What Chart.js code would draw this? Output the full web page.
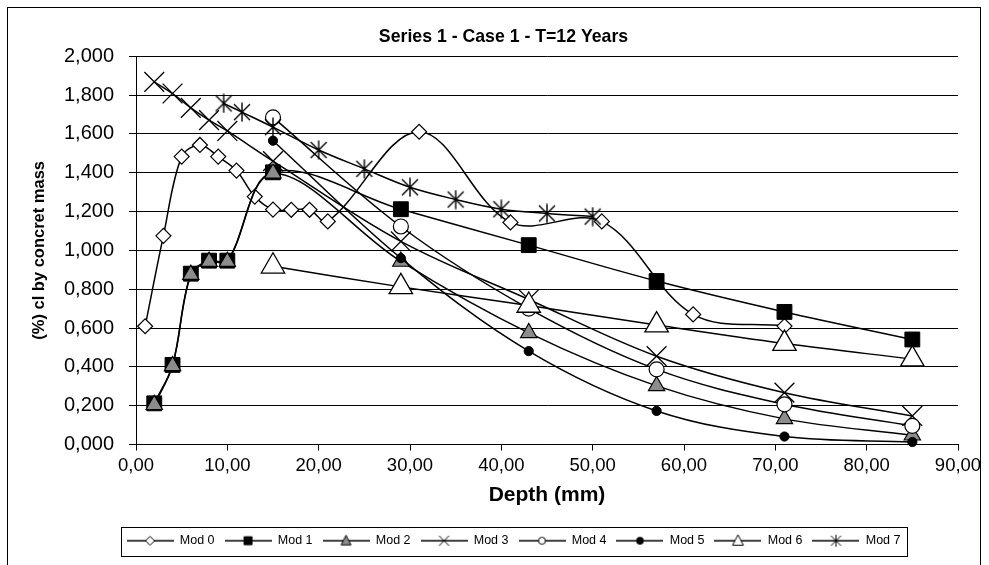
<!DOCTYPE html>
<html>
<head>
<meta charset="utf-8">
<script src="https://cdn.jsdelivr.net/npm/chart.js@4.4.1/dist/chart.umd.min.js"></script>
<style>
html,body{margin:0;padding:0;background:#fff;}
#wrap{width:989px;height:565px;position:relative;overflow:hidden;}
canvas{display:block;}
</style>
</head>
<body>
<div id="wrap"><canvas id="c" width="989" height="565"></canvas></div>
<script>
// ---------------- data ----------------
const chartTitle = 'Series 1 - Case 1 - T=12 Years';
const xAxisTitle = 'Depth (mm)';
const yAxisTitle = '(%) cl by concret mass';
const seriesNames = ['Mod 0', 'Mod 1', 'Mod 2', 'Mod 3', 'Mod 4', 'Mod 5', 'Mod 6', 'Mod 7'];

const xTickLabels = ['0,00', '10,00', '20,00', '30,00', '40,00', '50,00', '60,00', '70,00', '80,00', '90,00'];
const yTickLabels = ['0,000', '0,200', '0,400', '0,600', '0,800', '1,000', '1,200', '1,400', '1,600', '1,800', '2,000'];

const depthMod0 = [1, 3, 5, 7, 9, 11, 13, 15, 17, 19, 21, 31, 41, 51, 61, 71];
const valueMod0 = [0.609, 1.075, 1.483, 1.543, 1.483, 1.411, 1.277, 1.210, 1.209, 1.209, 1.149, 1.611, 1.144, 1.149, 0.670, 0.610];

const depthMod1 = [2, 4, 6, 8, 10, 15, 29, 43, 57, 71, 85];
const valueMod1 = [0.212, 0.410, 0.880, 0.947, 0.947, 1.402, 1.212, 1.027, 0.842, 0.683, 0.541];

const depthMod2 = [2, 4, 6, 8, 10, 15, 29, 43, 57, 71, 85];
const valueMod2 = [0.205, 0.405, 0.875, 0.942, 0.942, 1.397, 0.943, 0.575, 0.302, 0.132, 0.048];

const depthMod3 = [2, 4, 6, 8, 10, 15, 29, 43, 57, 71, 85];
const valueMod3 = [1.868, 1.808, 1.734, 1.671, 1.615, 1.460, 1.046, 0.747, 0.455, 0.267, 0.147];

const depthMod4 = [15, 29, 43, 57, 71, 85];
const valueMod4 = [1.685, 1.123, 0.700, 0.387, 0.207, 0.096];

const depthMod5 = [15, 29, 43, 57, 71, 85];
const valueMod5 = [1.565, 0.960, 0.481, 0.173, 0.041, 0.013];

const depthMod6 = [15, 29, 43, 57, 71, 85];
const valueMod6 = [0.918, 0.812, 0.716, 0.615, 0.520, 0.440];

const depthMod7 = [9.6, 11.6, 15, 20, 25, 30, 35, 40, 45, 50];
const valueMod7 = [1.757, 1.712, 1.635, 1.517, 1.420, 1.325, 1.262, 1.212, 1.190, 1.174];

// ---------------- styles ----------------
const FONT = "'Liberation Sans', Arial, Helvetica, sans-serif";
const BLACK = '#000000';
const GREY = '#8c8c8c';

function asteriskCanvas(size, lw) {
  const c = document.createElement('canvas');
  c.width = size; c.height = size;
  const g = c.getContext('2d');
  const h = size / 2, a = size * 0.40, v = size * 0.47;
  g.strokeStyle = BLACK; g.lineWidth = lw;
  g.beginPath();
  g.moveTo(h - a, h - a); g.lineTo(h + a, h + a);
  g.moveTo(h + a, h - a); g.lineTo(h - a, h + a);
  g.moveTo(h, h - v); g.lineTo(h, h + v);
  g.stroke();
  return c;
}

const markerStyles = [
  { pointStyle: 'rectRot', radius: 7.5, fill: '#ffffff', bw: 1.2, shape: 'diamond', lr: 4.5 },
  { pointStyle: 'rect', radius: 10.5, fill: BLACK, bw: 1, shape: 'square', lr: 4 },
  { pointStyle: 'triangle', radius: 9.5, fill: GREY, bw: 1.1, shape: 'triangle', lr: 5.5 },
  { pointStyle: 'crossRot', radius: 14, fill: BLACK, bw: 1.3, shape: 'x', lr: 5 },
  { pointStyle: 'circle', radius: 7.5, fill: '#ffffff', bw: 1.2, shape: 'circle', lr: 3.5 },
  { pointStyle: 'circle', radius: 4.6, fill: BLACK, bw: 1, shape: 'dot', lr: 3.5 },
  { pointStyle: 'triangle', radius: 13.5, fill: '#ffffff', bw: 1.3, shape: 'triangle', lr: 6 },
  { pointStyle: asteriskCanvas(20, 1.4), radius: 9, fill: BLACK, bw: 1.3, shape: 'asterisk', lr: 5 }
];

function legendCanvas(m) {
  const W = 47, H = 14;
  const c = document.createElement('canvas');
  c.width = W; c.height = H;
  const g = c.getContext('2d');
  const cx = W / 2, cy = H / 2, r = m.lr;
  g.strokeStyle = BLACK; g.lineWidth = 1.3;
  g.beginPath(); g.moveTo(0, cy); g.lineTo(W, cy); g.stroke();
  g.lineWidth = 1;
  g.fillStyle = m.fill;
  g.beginPath();
  switch (m.shape) {
    case 'diamond':
      g.moveTo(cx, cy - r); g.lineTo(cx + r, cy); g.lineTo(cx, cy + r); g.lineTo(cx - r, cy); g.closePath();
      g.fillStyle = '#fff'; g.fill(); g.stroke(); break;
    case 'square':
      g.rect(cx - r, cy - r, 2 * r, 2 * r); g.fill(); g.stroke(); break;
    case 'triangle':
      g.moveTo(cx, cy - r); g.lineTo(cx + r * 0.9, cy + r * 0.75); g.lineTo(cx - r * 0.9, cy + r * 0.75); g.closePath();
      g.fill(); g.stroke(); break;
    case 'x':
      g.moveTo(cx - r, cy - r); g.lineTo(cx + r, cy + r); g.moveTo(cx + r, cy - r); g.lineTo(cx - r, cy + r);
      g.stroke(); break;
    case 'circle':
      g.arc(cx, cy, r, 0, Math.PI * 2); g.fillStyle = '#fff'; g.fill(); g.stroke(); break;
    case 'dot':
      g.arc(cx, cy, r, 0, Math.PI * 2); g.fill(); g.stroke(); break;
    case 'asterisk':
      g.moveTo(cx - r, cy - r); g.lineTo(cx + r, cy + r); g.moveTo(cx + r, cy - r); g.lineTo(cx - r, cy + r);
      g.moveTo(cx, cy - r - 1); g.lineTo(cx, cy + r + 1);
      g.stroke(); break;
  }
  return c;
}
const legendImages = markerStyles.map(legendCanvas);

// ---------------- datasets ----------------
const depthSets = [depthMod0, depthMod1, depthMod2, depthMod3, depthMod4, depthMod5, depthMod6, depthMod7];
const valueSets = [valueMod0, valueMod1, valueMod2, valueMod3, valueMod4, valueMod5, valueMod6, valueMod7];

const datasets = seriesNames.map((name, i) => {
  const m = markerStyles[i];
  return {
    label: name,
    data: depthSets[i].map((d, k) => ({ x: d, y: valueSets[i][k] })),
    borderColor: BLACK,
    borderWidth: 1.5,
    tension: 0.35,
    fill: false,
    showLine: true,
    pointStyle: m.pointStyle,
    pointRadius: m.radius,
    pointHoverRadius: m.radius,
    pointBackgroundColor: m.fill,
    pointBorderColor: BLACK,
    pointBorderWidth: m.bw,
    clip: false,
    order: seriesNames.length - 1 - i
  };
});

// ---------------- plugins ----------------
const LEGEND_SHIFT = 10;
const framePlugin = {
  id: 'frame',
  afterLayout(chart) {
    if (chart.legend) {
      chart.legend.left += LEGEND_SHIFT;
      chart.legend.right += LEGEND_SHIFT;
    }
  },
  beforeDraw(chart) {
    const g = chart.ctx;
    g.save();
    g.fillStyle = '#ffffff';
    g.fillRect(0, 0, chart.width, chart.height);
    g.strokeStyle = BLACK;
    g.lineWidth = 1;
    g.strokeRect(7.5, 7.5, 973, 600);
    g.restore();
  },
  afterDraw(chart) {
    const lg = chart.legend;
    if (!lg || !lg.legendHitBoxes || !lg.legendHitBoxes.length) return;
    const hb = lg.legendHitBoxes;
    let l = Infinity, r = -Infinity, t = Infinity, b = -Infinity;
    hb.forEach(h => { l = Math.min(l, h.left); r = Math.max(r, h.left + h.width); t = Math.min(t, h.top); b = Math.max(b, h.top + h.height); });
    const g = chart.ctx;
    g.save();
    g.strokeStyle = BLACK; g.lineWidth = 1;
    g.strokeRect(Math.round(l - 6) + 0.5, Math.round(t - 8) + 0.5, Math.round(r - l + 12), Math.round(b - t + 16));
    g.restore();
  }
};

// ---------------- chart ----------------
const ctx = document.getElementById('c').getContext('2d');
new Chart(ctx, {
  type: 'line',
  data: { datasets },
  plugins: [framePlugin],
  options: {
    responsive: false,
    animation: false,
    devicePixelRatio: 1,
    layout: { padding: { left: 28, right: 10, top: 0, bottom: 8 } },
    plugins: {
      tooltip: { enabled: false },
      title: {
        display: true,
        text: chartTitle,
        color: BLACK,
        font: { family: FONT, size: 17.7, weight: 'bold' },
        padding: { top: 26, bottom: 9 }
      },
      legend: {
        position: 'bottom',
        labels: {
          usePointStyle: true,
          pointStyleWidth: 47,
          boxHeight: 14,
          padding: 10,
          color: BLACK,
          font: { family: FONT, size: 12.5 },
          generateLabels: () => seriesNames.map((n, i) => ({
            text: n,
            pointStyle: legendImages[i],
            fillStyle: 'rgba(0,0,0,0)',
            strokeStyle: 'rgba(0,0,0,0)',
            lineWidth: 0,
            hidden: false,
            datasetIndex: i,
            fontColor: BLACK
          }))
        }
      }
    },
    scales: {
      x: {
        type: 'linear',
        min: 0, max: 90,
        afterFit: (s) => { s.height = 80; },
        ticks: {
          stepSize: 10,
          color: BLACK,
          font: { family: FONT, size: 18.5 },
          padding: 4,
          maxRotation: 0,
          autoSkip: false,
          callback: (v, i) => xTickLabels[i]
        },
        grid: { display: true, drawOnChartArea: false, drawTicks: true, tickLength: 6, color: BLACK, lineWidth: 1 },
        border: { display: true, color: BLACK, width: 1 },
        title: {
          display: true,
          text: xAxisTitle,
          color: BLACK,
          font: { family: FONT, size: 21, weight: 'bold' },
          padding: { top: 2, bottom: 17 }
        }
      },
      y: {
        type: 'linear',
        min: 0, max: 2,
        afterFit: (s) => { s.width = 108; },
        ticks: {
          stepSize: 0.2,
          color: BLACK,
          font: { family: FONT, size: 20 },
          padding: 15,
          autoSkip: false,
          callback: (v, i) => yTickLabels[i]
        },
        grid: { display: true, drawOnChartArea: true, drawTicks: true, tickLength: 7, color: BLACK, lineWidth: 1 },
        border: { display: true, color: BLACK, width: 1 },
        title: {
          display: true,
          text: yAxisTitle,
          color: BLACK,
          font: { family: FONT, size: 16.5, weight: 'bold' },
          padding: { top: 2, bottom: 0 }
        }
      },
      yRightSpace: {
        type: 'linear',
        position: 'right',
        min: 0, max: 1,
        afterFit: (s) => { s.width = 21; },
        ticks: { display: false },
        grid: { display: false, drawTicks: false },
        border: { display: false }
      }
    }
  }
});
</script>
</body>
</html>
